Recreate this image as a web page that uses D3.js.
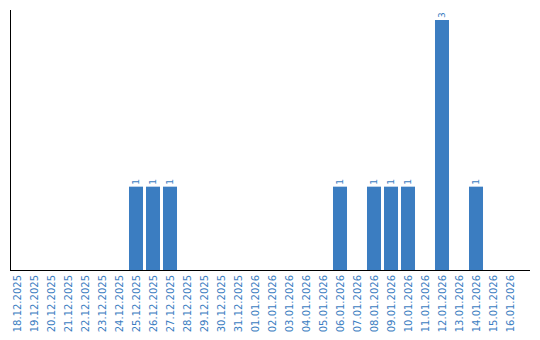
<!DOCTYPE html>
<html><head><meta charset="utf-8">
<script src="https://cdn.jsdelivr.net/npm/d3@7"></script>
<style>body{margin:0;background:#fff}svg{display:block}</style>
</head><body>
<script>
const categories = ["18.12.2025","19.12.2025","20.12.2025","21.12.2025","22.12.2025","23.12.2025","24.12.2025","25.12.2025","26.12.2025","27.12.2025","28.12.2025","29.12.2025","30.12.2025","31.12.2025","01.01.2026","02.01.2026","03.01.2026","04.01.2026","05.01.2026","06.01.2026","07.01.2026","08.01.2026","09.01.2026","10.01.2026","11.01.2026","12.01.2026","13.01.2026","14.01.2026","15.01.2026","16.01.2026"];
const values = [0,0,0,0,0,0,0,1,1,1,0,0,0,0,0,0,0,0,0,1,0,1,1,1,0,3,0,1,0,0];

const W = 540, H = 340;
const svg = d3.select("body").append("svg").attr("width", W).attr("height", H);
const blue = "#3b7dc1";
const x = d3.scaleBand().domain(categories).range([8.5, 518.5]).paddingInner(0.176).paddingOuter(0.088);
const y = d3.scaleLinear().domain([0, 3.12]).range([270, 10]);

const data = categories.map((c, i) => ({c, v: values[i]}));
svg.selectAll("rect.bar").data(data.filter(d => d.v > 0)).enter().append("rect")
  .attr("x", d => x(d.c)).attr("y", d => y(d.v))
  .attr("width", x.bandwidth()).attr("height", d => y(0) - y(d.v))
  .attr("fill", blue);

svg.selectAll("text.val").data(data.filter(d => d.v > 0)).enter().append("text")
  .attr("transform", d => `translate(${x(d.c) + x.bandwidth()/2 + 3},${y(d.v) - 2}) rotate(-90)`)
  .attr("font-family", "DejaVu Sans, Verdana, sans-serif").attr("font-size", 9)
  .attr("fill", blue).text(d => d.v);

// axes lines
svg.append("line").attr("x1", 10.5).attr("x2", 10.5).attr("y1", 10).attr("y2", 270.5).attr("stroke", "#000");
svg.append("line").attr("x1", 10).attr("x2", 530).attr("y1", 270.5).attr("y2", 270.5).attr("stroke", "#000");

const xa = svg.append("g").attr("transform", "translate(0,270)")
  .call(d3.axisBottom(x).tickSize(0).tickPadding(0));
xa.select(".domain").remove();
xa.selectAll("text")
  .attr("font-family", "DejaVu Sans, Verdana, sans-serif").attr("font-size", 10)
  .attr("fill", blue)
  .attr("text-anchor", "end")
  .attr("dy", null)
  .attr("transform", "translate(4,5) rotate(-90)")
  .attr("x", 0).attr("y", 0);
</script>
</body></html>
